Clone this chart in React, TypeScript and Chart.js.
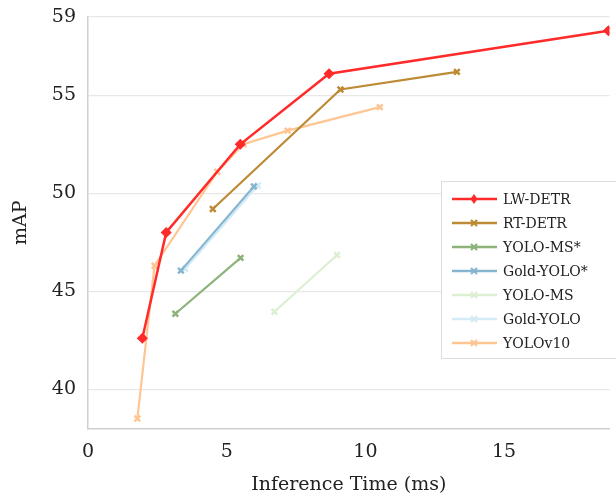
import React, { useEffect, useRef } from "react";
import { Chart, registerables } from "chart.js";

Chart.register(...registerables);

const seriesNames = ["LW-DETR", "RT-DETR", "YOLO-MS*", "Gold-YOLO*", "YOLO-MS", "Gold-YOLO", "YOLOv10"];
const seriesColors = ["#ff2a2a", "#bd8a35", "#8db37a", "#86b6cf", "#dcefd2", "#d3eaf7", "#ffc592"];

const lwdetrX = [1.96, 2.82, 5.49, 8.69, 18.76];
const lwdetrY = [42.6, 48.0, 52.5, 56.1, 58.3];
const rtdetrX = [4.5, 9.1, 13.3];
const rtdetrY = [49.2, 55.3, 56.2];
const yolomsStarX = [3.15, 5.5];
const yolomsStarY = [43.85, 46.7];
const goldStarX = [3.35, 5.98];
const goldStarY = [46.05, 50.35];
const yolomsX = [6.72, 8.98];
const yolomsY = [43.95, 46.85];
const goldX = [3.5, 6.12];
const goldY = [46.15, 50.4];
const yolov10X = [1.78, 2.4, 4.66, 5.6, 7.2, 10.52];
const yolov10Y = [38.5, 46.3, 51.1, 52.5, 53.2, 54.4];

const xTicks = [0, 5, 10, 15];
const yTicks = [40, 45, 50, 55, 59];

const FONT = "'DejaVu Serif', 'Liberation Serif', serif";

const pts = (xs: number[], ys: number[]) => xs.map((x, i) => ({ x, y: ys[i] }));

export default function App() {
  const ref = useRef<HTMLCanvasElement | null>(null);
  useEffect(() => {
    document.body.style.margin = "0";
    const xsAll = [lwdetrX, rtdetrX, yolomsStarX, goldStarX, yolomsX, goldX, yolov10X];
    const ysAll = [lwdetrY, rtdetrY, yolomsStarY, goldStarY, yolomsY, goldY, yolov10Y];
    const datasets = seriesNames.map((name, i) => ({
      label: name,
      data: pts(xsAll[i], ysAll[i]),
      borderColor: seriesColors[i],
      backgroundColor: seriesColors[i],
      borderWidth: i === 0 ? 2.5 : 2.2,
      pointStyle: i === 0 ? "rectRot" : "crossRot",
      pointRadius: i === 0 ? 4.5 : 4,
      pointBorderWidth: i === 0 ? 1.5 : 2.5,
      pointBorderColor: seriesColors[i],
      pointBackgroundColor: seriesColors[i],
      tension: 0,
    }));

    const legendPlugin = {
      id: "insideLegend",
      afterDraw(chart: any) {
        const ctx = chart.ctx;
        const left = 441;
        const top = 181;
        const w = 180;
        const h = 177;
        ctx.save();
        ctx.fillStyle = "#ffffff";
        ctx.fillRect(left, top, w, h);
        ctx.strokeStyle = "#dddddd";
        ctx.lineWidth = 1;
        ctx.strokeRect(left + 0.5, top + 0.5, w, h);
        ctx.font = `14px ${FONT}`;
        ctx.textBaseline = "middle";
        seriesNames.forEach((name, i) => {
          const y = top + 18 + i * 24;
          const c = seriesColors[i];
          ctx.strokeStyle = c;
          ctx.lineWidth = 2.5;
          ctx.beginPath();
          ctx.moveTo(left + 11, y);
          ctx.lineTo(left + 56, y);
          ctx.stroke();
          const cx = left + 33;
          ctx.fillStyle = c;
          if (i === 0) {
            ctx.beginPath();
            ctx.moveTo(cx, y - 5);
            ctx.lineTo(cx + 3.5, y);
            ctx.lineTo(cx, y + 5);
            ctx.lineTo(cx - 3.5, y);
            ctx.closePath();
            ctx.fill();
          } else {
            ctx.lineWidth = 2.2;
            ctx.beginPath();
            ctx.moveTo(cx - 3, y - 3);
            ctx.lineTo(cx + 3, y + 3);
            ctx.moveTo(cx + 3, y - 3);
            ctx.lineTo(cx - 3, y + 3);
            ctx.stroke();
          }
          ctx.fillStyle = "#222222";
          ctx.fillText(name, left + 62, y + 1);
        });
        ctx.restore();
      },
    };

    const chart = new Chart(ref.current as HTMLCanvasElement, {
      type: "line",
      data: { datasets: datasets as any },
      plugins: [legendPlugin],
      options: {
        animation: false,
        responsive: false,
        maintainAspectRatio: false,
        layout: { padding: { top: 0, right: 0, left: 10, bottom: 0 } },
        plugins: { legend: { display: false }, tooltip: { enabled: false } },
        scales: {
          x: {
            type: "linear",
            min: 0,
            max: 18.8,
            afterBuildTicks: (axis: any) => {
              axis.ticks = xTicks.map((v) => ({ value: v }));
            },
            grid: { display: false, drawTicks: false },
            border: { display: true, color: "#d0d0d0", width: 1.5 },
            ticks: { color: "#222", font: { family: FONT, size: 19 }, padding: 12, maxRotation: 0 },
            title: { display: true, text: "Inference Time (ms)", color: "#222", font: { family: FONT, size: 19, lineHeight: 1.1 }, padding: { top: 0, bottom: 0 } },
          },
          y: {
            type: "linear",
            min: 38,
            max: 59,
            afterBuildTicks: (axis: any) => {
              axis.ticks = yTicks.map((v) => ({ value: v }));
            },
            afterFit: (axis: any) => {
              axis.paddingTop = 17;
            },
            grid: { display: true, color: "#e8e8e8", lineWidth: 1.2, drawTicks: false },
            border: { display: true, color: "#d0d0d0", width: 1.5 },
            ticks: { color: "#222", font: { family: FONT, size: 19 }, padding: 12 },
            title: { display: true, text: "mAP", color: "#222", font: { family: FONT, size: 19 }, padding: { top: 0, bottom: 7 } },
          },
        },
      },
    });
    return () => chart.destroy();
  }, []);
  return (
    <div style={{ position: "absolute", left: 0, top: 0, width: 616, height: 496 }}>
      <canvas ref={ref} width={616} height={496} style={{ width: 616, height: 496 }} />
    </div>
  );
}
